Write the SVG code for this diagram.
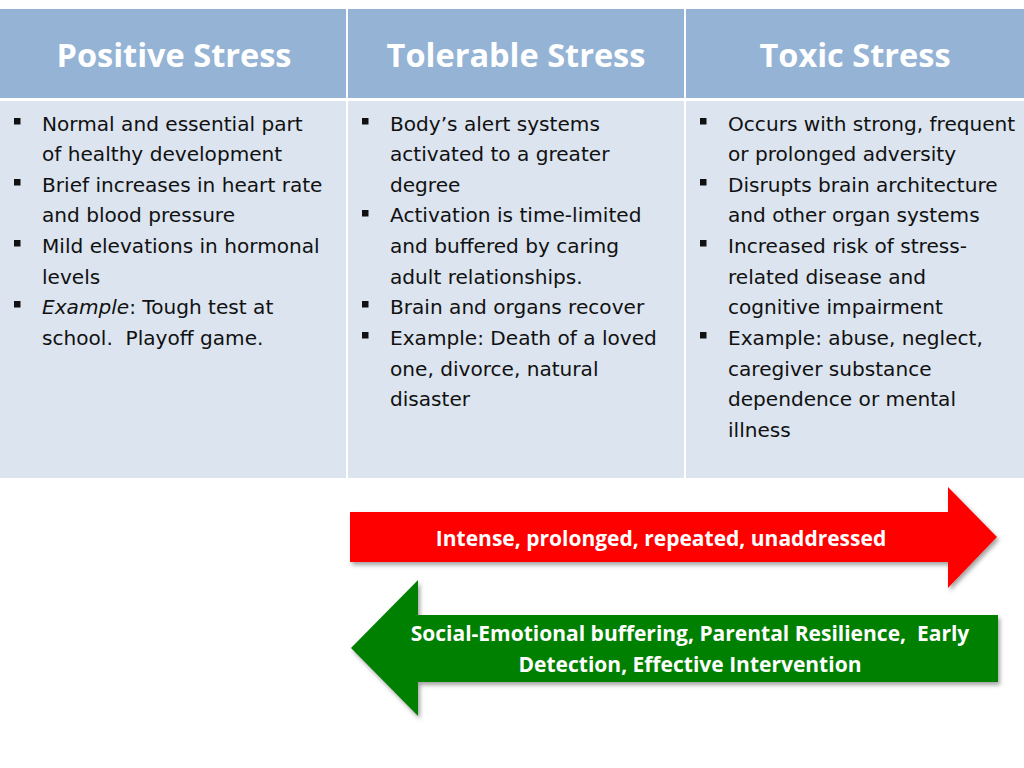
<svg xmlns="http://www.w3.org/2000/svg" width="1024" height="768" viewBox="0 0 1024 768">
<defs>
<style>
.hdr{fill:#94b3d5}
.body{fill:#dbe4ef}
.ht{font-family:"Open Sans","Liberation Sans",sans-serif;font-weight:bold;font-size:32.5px;fill:#ffffff;text-anchor:middle}
.bt{font-family:"DejaVu Sans","Liberation Sans",sans-serif;font-size:20.1px;fill:#111111}
.at{font-family:"Open Sans","Liberation Sans",sans-serif;font-weight:bold;font-size:21px;fill:#ffffff;text-anchor:middle}
.bul{fill:#111111}
</style>
<filter id="sh" x="-10%" y="-20%" width="120%" height="150%">
<feDropShadow dx="2" dy="3" stdDeviation="2" flood-color="#555555" flood-opacity="0.55"/>
</filter>
<rect id="b" width="6.5" height="6.5" class="bul"/>
</defs>
<rect width="1024" height="768" fill="#ffffff"/>

<g id="col-positive">
<rect class="hdr" x="0" y="9" width="346" height="89"/>
<rect class="body" x="0" y="101" width="346" height="377"/>
<text class="ht" x="174" y="67">Positive Stress</text>
<use href="#b" x="14" y="118"/>
<use href="#b" x="14" y="179"/>
<use href="#b" x="14" y="240"/>
<use href="#b" x="14" y="301"/>
<text class="bt" x="42" y="131">Normal and essential part</text>
<text class="bt" x="42" y="161">of healthy development</text>
<text class="bt" x="42" y="192">Brief increases in heart rate</text>
<text class="bt" x="42" y="222">and blood pressure</text>
<text class="bt" x="42" y="253">Mild elevations in hormonal</text>
<text class="bt" x="42" y="284">levels</text>
<text class="bt" x="42" y="314"><tspan font-style="italic">Example</tspan>: Tough test at</text>
<text class="bt" x="42" y="345" xml:space="preserve">school.  Playoff game.</text>
</g>

<g id="col-tolerable">
<rect class="hdr" x="348" y="9" width="336" height="89"/>
<rect class="body" x="348" y="101" width="336" height="377"/>
<text class="ht" x="516" y="67">Tolerable Stress</text>
<use href="#b" x="362" y="118"/>
<use href="#b" x="362" y="210"/>
<use href="#b" x="362" y="301"/>
<use href="#b" x="362" y="332"/>
<text class="bt" x="390" y="131">Body’s alert systems</text>
<text class="bt" x="390" y="161">activated to a greater</text>
<text class="bt" x="390" y="192">degree</text>
<text class="bt" x="390" y="222">Activation is time-limited</text>
<text class="bt" x="390" y="253">and buffered by caring</text>
<text class="bt" x="390" y="284">adult relationships.</text>
<text class="bt" x="390" y="314">Brain and organs recover</text>
<text class="bt" x="390" y="345">Example: Death of a loved</text>
<text class="bt" x="390" y="376">one, divorce, natural</text>
<text class="bt" x="390" y="406">disaster</text>
</g>

<g id="col-toxic">
<rect class="hdr" x="686" y="9" width="338" height="89"/>
<rect class="body" x="686" y="101" width="338" height="377"/>
<text class="ht" x="855" y="67">Toxic Stress</text>
<use href="#b" x="700" y="118"/>
<use href="#b" x="700" y="179"/>
<use href="#b" x="700" y="240"/>
<use href="#b" x="700" y="332"/>
<text class="bt" x="728" y="131">Occurs with strong, frequent</text>
<text class="bt" x="728" y="161">or prolonged adversity</text>
<text class="bt" x="728" y="192">Disrupts brain architecture</text>
<text class="bt" x="728" y="222">and other organ systems</text>
<text class="bt" x="728" y="253">Increased risk of stress-</text>
<text class="bt" x="728" y="284">related disease and</text>
<text class="bt" x="728" y="314">cognitive impairment</text>
<text class="bt" x="728" y="345">Example: abuse, neglect,</text>
<text class="bt" x="728" y="376">caregiver substance</text>
<text class="bt" x="728" y="406">dependence or mental</text>
<text class="bt" x="728" y="437">illness</text>
</g>

<g id="connectors">
<g id="arrow-red">
<polygon points="350,512 948,512 948,487 997,537 948,588 948,562 350,562" fill="#ff0000" filter="url(#sh)"/>
<text class="at" x="661" y="546">Intense, prolonged, repeated, unaddressed</text>
</g>
<g id="arrow-green">
<polygon points="998,615 418,615 418,580 351,648 418,716 418,682 998,682" fill="#008000" filter="url(#sh)"/>
<text class="at" x="690" y="641" xml:space="preserve">Social-Emotional buffering, Parental Resilience,  Early</text>
<text class="at" x="690" y="672">Detection, Effective Intervention</text>
</g>
</g>
</svg>
